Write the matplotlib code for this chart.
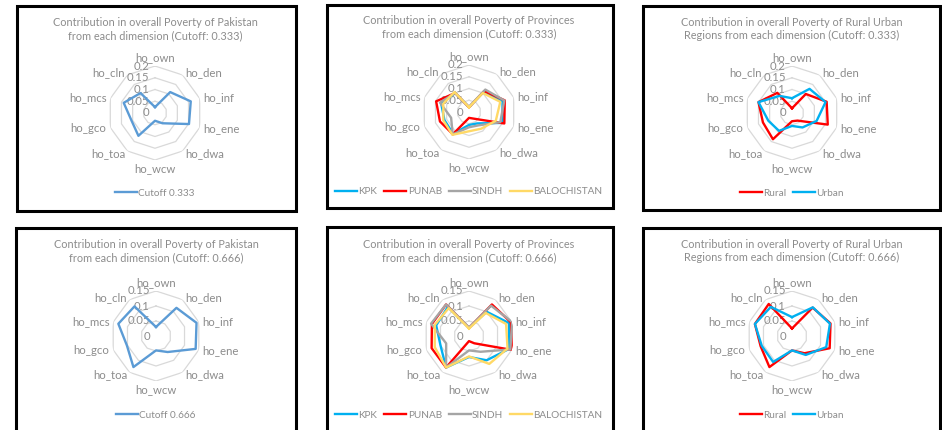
import numpy as np
import matplotlib.pyplot as plt
from matplotlib.patches import Rectangle

plt.rcParams['font.family'] = ['Lato', 'DejaVu Sans']

dims = ["ho_own", "ho_den", "ho_inf", "ho_ene", "ho_dwa",
        "ho_wcw", "ho_toa", "ho_gco", "ho_mcs", "ho_cln"]

# Pakistan
pak_333 = [0.025, 0.11, 0.16, 0.152, 0.054, 0.033, 0.12, 0.105, 0.14, 0.105]
pak_666 = [0.03, 0.116, 0.142, 0.139, 0.066, 0.048, 0.128, 0.102, 0.132, 0.122]

# Provinces
kpk_333 = [0.02, 0.105, 0.15, 0.15, 0.06, 0.055, 0.115, 0.11, 0.125, 0.10]
pun_333 = [0.02, 0.11, 0.16, 0.158, 0.035, 0.025, 0.117, 0.13, 0.147, 0.10]
sin_333 = [0.022, 0.118, 0.158, 0.14, 0.07, 0.065, 0.118, 0.08, 0.13, 0.10]
bal_333 = [0.02, 0.10, 0.14, 0.12, 0.088, 0.082, 0.12, 0.115, 0.115, 0.105]

kpk_666 = [0.027, 0.10, 0.14, 0.14, 0.10, 0.07, 0.13, 0.10, 0.115, 0.12]
pun_666 = [0.027, 0.13, 0.147, 0.15, 0.03, 0.017, 0.13, 0.131, 0.13, 0.13]
sin_666 = [0.028, 0.125, 0.151, 0.145, 0.065, 0.048, 0.13, 0.08, 0.133, 0.13]
bal_666 = [0.025, 0.095, 0.13, 0.135, 0.115, 0.068, 0.13, 0.12, 0.12, 0.115]

# Rural / Urban
rur_333 = [0.02, 0.10, 0.155, 0.16, 0.04, 0.035, 0.138, 0.13, 0.15, 0.106]
urb_333 = [0.063, 0.127, 0.15, 0.11, 0.076, 0.055, 0.094, 0.106, 0.15, 0.09]
rur_666 = [0.025, 0.117, 0.135, 0.132, 0.071, 0.048, 0.128, 0.11, 0.13, 0.132]
urb_666 = [0.063, 0.118, 0.133, 0.12, 0.078, 0.048, 0.107, 0.106, 0.13, 0.12]

ticks_top = [0, 0.05, 0.1, 0.15, 0.2]
ticks_bot = [0, 0.05, 0.1, 0.15]

BLUE = "#5B9BD5"
KPK_C = "#00B0F0"
RED = "#FF0000"
GRAY = "#A5A5A5"
YEL = "#FFD966"
TXT = "#8C8C8C"

W, H = 942, 430
fig = plt.figure(figsize=(W / 100, H / 100), dpi=100)


def px(x, y, w, h):
    # pixel box (from top-left) to figure fraction
    return [x / W, 1 - (y + h) / H, w / W, h / H]


def radar(cx, cy, R, ticks, series, title, title_y, legend_y):
    ax = fig.add_axes(px(cx - R, cy - R, 2 * R, 2 * R), projection="polar")
    ax.set_theta_zero_location("N")
    ax.set_theta_direction(-1)
    ax.set_ylim(0, ticks[-1])
    ax.grid(False)
    ax.spines["polar"].set_visible(False)
    ax.set_xticks([])
    ax.set_yticks([])
    ax.patch.set_alpha(0)

    theta = np.linspace(0, 2 * np.pi, len(dims), endpoint=False)
    tc = np.append(theta, theta[0])
    for r in ticks[1:]:
        ax.plot(tc, [r] * len(tc), color="#D9D9D9", lw=0.9, zorder=1)
    for r in ticks:
        ax.annotate(f"{r:g}", (0, r), xytext=(-6, 0), textcoords="offset pixels",
                    ha="right", va="center", fontsize=8.2, color=TXT, zorder=2)
    for t, name in zip(theta, dims):
        s, c = np.sin(t), np.cos(t)
        if abs(s) < 0.1:
            ha, va = "center", ("bottom" if c > 0 else "top")
        else:
            ha, va = ("left" if s > 0 else "right"), "center"
        ax.annotate(name, (t, ticks[-1]), xytext=(4 * s, 3 * c),
                    textcoords="offset pixels", ha=ha, va=va,
                    fontsize=8.2, color=TXT, annotation_clip=False)

    handles = []
    for label, vals, col in series:
        v = np.append(vals, vals[0])
        h, = ax.plot(tc, v, color=col, lw=1.7, label=label, zorder=3)
        handles.append(h)

    fig.text(cx / W, 1 - title_y / H, title, ha="center", va="center",
             fontsize=7.8, color=TXT, linespacing=1.3)
    fig.legend(handles=handles, loc="center", bbox_to_anchor=(cx / W, 1 - legend_y / H),
               ncol=len(handles), frameon=False, fontsize=7.2, labelcolor=TXT,
               handlelength=2.2, handletextpad=0.12, columnspacing=0.7)


# panel borders
for x0, y0, x1, y1 in [(17, 6, 296, 211), (327, 5, 613, 208), (643, 6, 940, 210),
                       (16, 228, 296, 440), (327, 227, 613, 440), (643, 228, 940, 440)]:
    fig.patches.append(Rectangle((x0 / W, 1 - y1 / H), (x1 - x0) / W, (y1 - y0) / H,
                                 transform=fig.transFigure, fill=False,
                                 edgecolor="black", lw=2.2))

t1 = "Contribution in overall Poverty of Pakistan\nfrom each dimension (Cutoff: {})"
t2 = "Contribution in overall Poverty of Provinces\nfrom each dimension (Cutoff: {})"
t3 = "Contribution in overall Poverty of Rural Urban\nRegions from each dimension (Cutoff: {})"

radar(155, 113, 47, ticks_top, [("Cutoff 0.333", pak_333, BLUE)],
      t1.format("0.333"), 29, 193)
radar(469, 112, 47, ticks_top,
      [("KPK", kpk_333, KPK_C), ("PUNAB", pun_333, RED),
       ("SINDH", sin_333, GRAY), ("BALOCHISTAN", bal_333, YEL)],
      t2.format("0.333"), 27, 192)
radar(792, 113, 47, ticks_top,
      [("Rural", rur_333, RED), ("Urban", urb_333, KPK_C)],
      t3.format("0.333"), 29, 193)
radar(156, 336, 45, ticks_bot, [("Cutoff 0.666", pak_666, BLUE)],
      t1.format("0.666"), 251, 415)
radar(469, 336, 45, ticks_bot,
      [("KPK", kpk_666, KPK_C), ("PUNAB", pun_666, RED),
       ("SINDH", sin_666, GRAY), ("BALOCHISTAN", bal_666, YEL)],
      t2.format("0.666"), 251, 415)
radar(792, 336, 45, ticks_bot,
      [("Rural", rur_666, RED), ("Urban", urb_666, KPK_C)],
      t3.format("0.666"), 251, 415)

fig.savefig("out.png", dpi=100)
